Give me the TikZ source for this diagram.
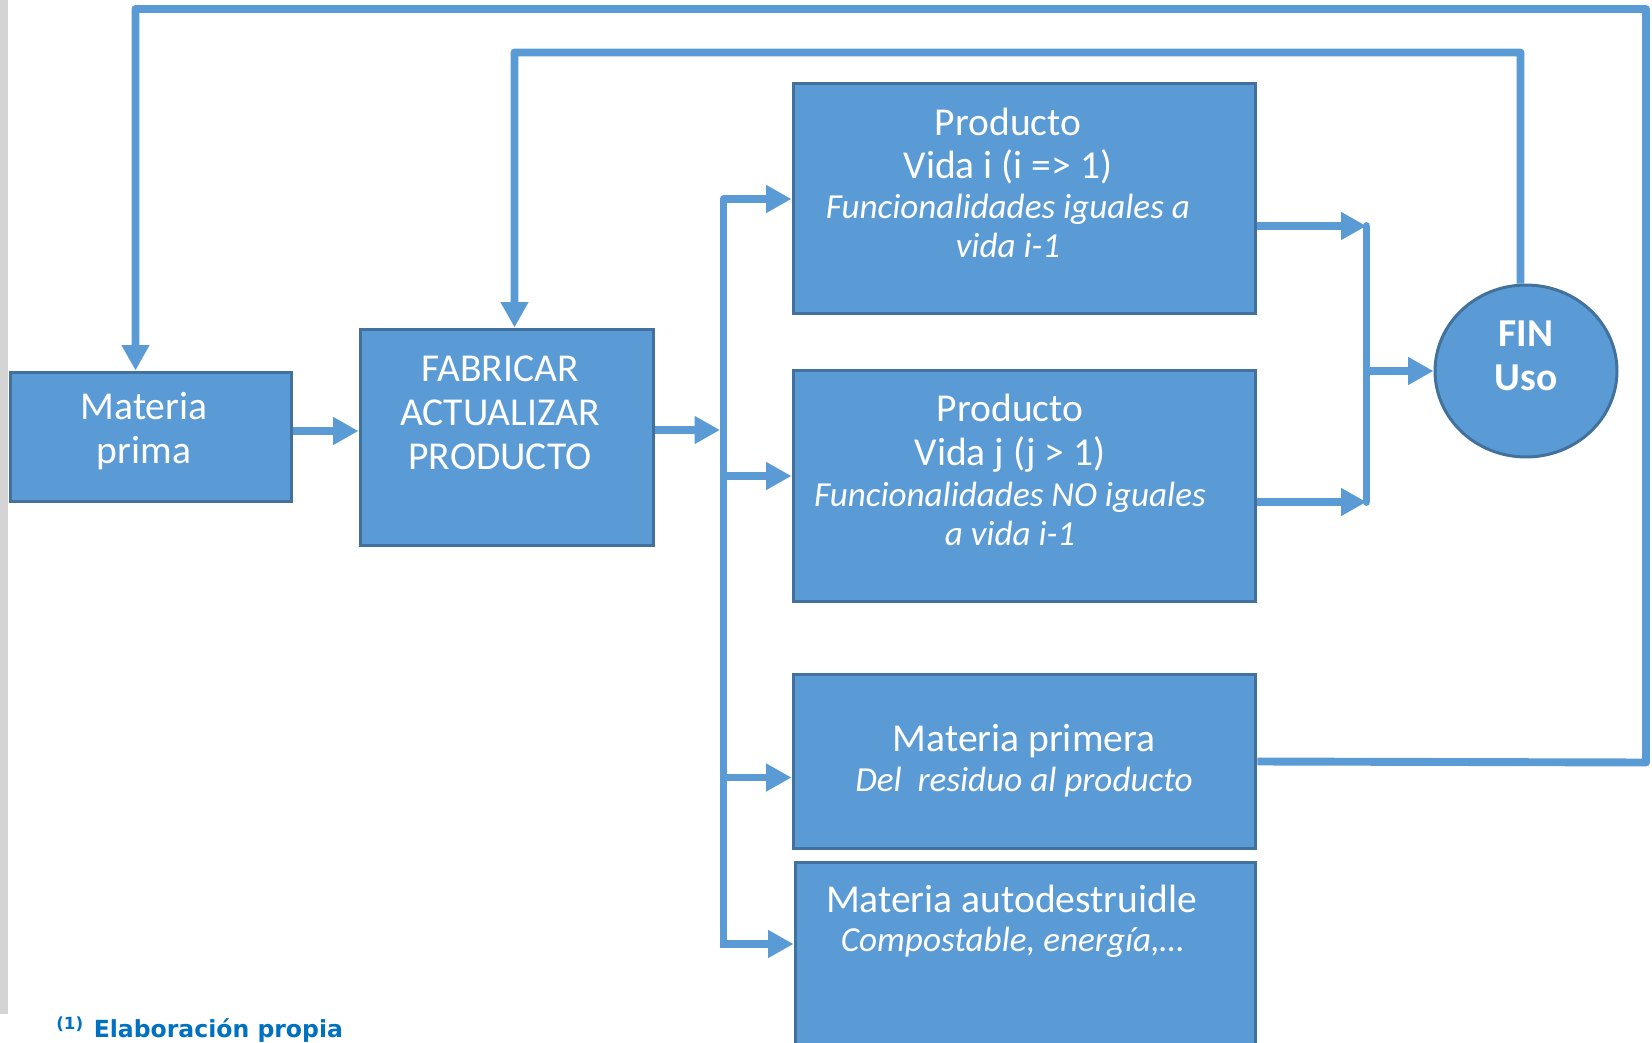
\documentclass[tikz,border=0pt]{standalone}
\usepackage{fontspec}
\setmainfont{Carlito}
\newfontfamily\notefont{DejaVu Sans}
\usepackage{tikz}
\usetikzlibrary{arrows.meta}
\usetikzlibrary{positioning}
\usetikzlibrary{shapes.geometric}
\definecolor{boxblue}{HTML}{5B9BD5}
\definecolor{edgeblue}{HTML}{41719C}
\definecolor{noteblue}{HTML}{0070C0}
\definecolor{stripgray}{HTML}{D4D4D4}
\tikzstyle{every node}+=[inner sep=0pt]
\tikzstyle{block} = [rectangle, draw=edgeblue, fill=boxblue, line width=1.7pt]
\tikzstyle{endcircle} = [ellipse, draw=edgeblue, fill=boxblue, line width=1.7pt, minimum width=3.64cm, minimum height=3.44cm]
\tikzstyle{txt} = [text=white, align=center, font=\fontsize{22.5}{25}\selectfont]
\tikzstyle{itx} = [txt, font=\fontsize{20}{22}\selectfont\itshape]
\tikzstyle{wire} = [draw=boxblue, line width=4.5pt, line join=round]
\tikzstyle{line} = [wire, -{Triangle[length=14.5pt, width=15pt]}]
\tikzstyle{note} = [text=noteblue, font=\notefont\bfseries\fontsize{13.4}{15}\selectfont]

\begin{document}
\begin{tikzpicture}[x=0.02cm, y=-0.02cm]
  \useasboundingbox (0,0) rectangle (1652,1043);
  \clip (0,0) rectangle (1652,1043);
  \fill [stripgray] (0,0) rectangle (8,1014);
  % Place nodes
  \node [block, minimum width=5.63cm, minimum height=2.6cm] (mp) at (151,437) {};
  \node [txt] (mptext) at (144,431) {Materia\\prima};
  \node [block, minimum width=5.88cm, minimum height=4.34cm] (fab) at (507,437.5) {};
  \node [txt] (fabtext) at (500,413) {FABRICAR\\ACTUALIZAR\\PRODUCTO};
  \node [block, minimum width=9.26cm, minimum height=4.62cm] (pi) at (1024.5,198.5) {};
  \node [txt] (pitext) at (1008,146) {Producto\\Vida i (i => 1)};
  \node [itx] (pinote) at (1008,226) {Funcionalidades iguales a\\vida i-1};
  \node [block, minimum width=9.26cm, minimum height=4.64cm] (pj) at (1024.5,486) {};
  \node [txt] (pjtext) at (1010,433) {Producto\\Vida j (j > 1)};
  \node [itx] (pjnote) at (1010,514) {Funcionalidades NO iguales\\a vida i-1};
  \node [block, minimum width=9.26cm, minimum height=3.5cm] (mpr) at (1024.5,761.5) {};
  \node [txt] (mprtext) at (1024,741) {Materia primera};
  \node [itx] (mprnote) at (1024,782) {Del\ \ residuo al producto};
  \node [block, minimum width=9.22cm, minimum height=4.16cm] (mad) at (1025.5,966) {};
  \node [txt] (madtext) at (1011.5,899) {Materia autodestruidle};
  \node [itx] (madnote) at (1012.5,942) {Compostable, energía,…};
  \node [endcircle] (fin) at (1526,371) {};
  \node [txt, font=\fontsize{22.5}{25}\selectfont\bfseries] (fintext) at (1526,356) {FIN\\Uso};
  \node [note, anchor=base west] (src) at (56,1037) {\raisebox{4.5pt}{\fontsize{9.5}{9.5}\selectfont (1)}\hspace{6pt}Elaboración propia};
  % Draw edges
  \coordinate (fork) at (720,430);
  \coordinate (busa) at (723.5,199);
  \coordinate (busb) at (723.5,948);
  \coordinate (busc) at (1366.5,226);
  \coordinate (busd) at (1366.5,502);
  \path [line] (mp.east |- 0,431) -- (fab.west |- 0,431);
  \path [line] (fab.east |- fork) -- (fork);
  \path [line] (busb) -- (busa) -- (busa -| pi.west);
  \path [line] (busa |- 0,476) -- (pj.west |- 0,476);
  \path [line] (busa |- 0,777.5) -- (mpr.west |- 0,777.5);
  \path [line] (busb |- 0,944) -- (mad.west |- 0,944);
  \path [line] (pi.east |- busc) -- (busc);
  \path [line] (pj.east |- busd) -- (busd);
  \path [wire, line cap=round] (busc) -- (busd);
  \path [line] (busc |- fin.west) -- (fin.west);
  \coordinate (topa) at (1520.5,52.5);
  \coordinate (topb) at (514.5,52.5);
  \path [line] ([xshift=-0.11cm]fin.north) -- (topa) -- (topb) -- (topb |- fab.north);
  \coordinate (outa) at (1646,762.5);
  \coordinate (outb) at (1646,9);
  \coordinate (outc) at (135.5,9);
  \path [line] (mpr.east) -- (outa) -- (outb) -- (outc) -- (outc |- mp.north);
\end{tikzpicture}
\end{document}
